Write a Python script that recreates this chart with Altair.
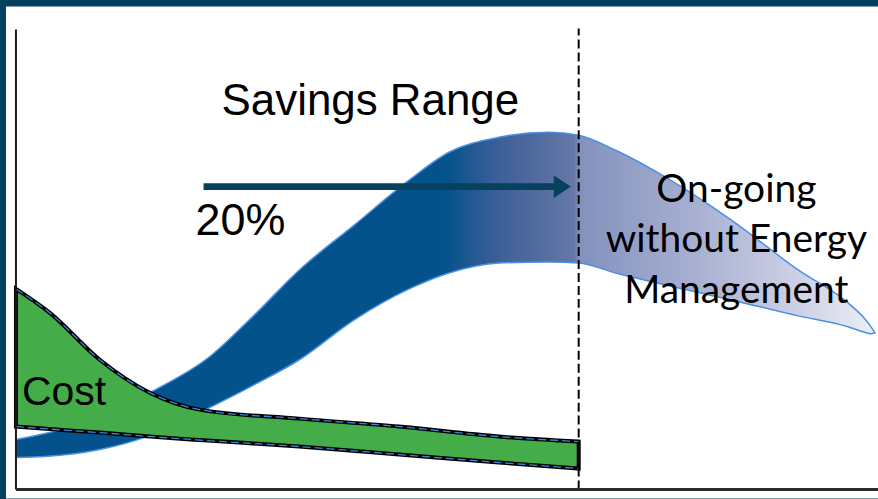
import altair as alt
import pandas as pd

# ---- data (conceptual units: x 0..100 time, y 0..100 level) ----
blue_x     = [0, 3.36, 9.74, 15.55, 22.51, 27.73, 32.95, 39.33, 45.71, 50.35, 56.15, 61.95, 65.43, 69.72, 75.52, 83.18, 90.95, 96.75, 98.49, 99.42, 99.88]
blue_upper = [10.85, 12.15, 15.62, 21.04, 28.85, 37.96, 47.72, 57.48, 67.25, 73.32, 76.57, 77.66, 77.01, 73.75, 67.90, 58.57, 47.72, 40.56, 37.53, 35.36, 34.06]
blue_lower = [6.94, 7.16, 8.68, 11.71, 17.79, 22.78, 28.20, 36.88, 43.60, 47.07, 49.24, 49.46, 49.24, 47.07, 44.47, 41.21, 37.74, 35.36, 34.27, 33.84, 34.06]

green_x     = [0, 3.94, 9.74, 15.55, 21.35, 32.95, 44.55, 56.15, 65.43]
green_upper = [43.60, 38.39, 28.20, 21.04, 17.35, 15.40, 13.67, 11.50, 10.41]
green_lower = [13.67, 13.12, 12.36, 11.50, 10.74, 9.33, 7.59, 5.86, 4.56]

divider_x = 65.43
arrow_x = [21.81, 62.65]
arrow_y = 65.84
arrow_tip_x = 63.52

labels = ["Savings Range", "20%", "Cost"]
label_x = [23.9, 20.88, 0.70]
label_y = [81.34, 55.31, 18.33]
label_size = [44, 45, 41]

ongoing_lines = ["On-going", "without Energy", "Management"]
ongoing_x = 83.76
ongoing_y = [62.58, 51.52, 40.56]

XD = [-1.16, 100.232]
YD = [-1.952, 104.99]

def X(field="x"):
    return alt.X(f"{field}:Q", scale=alt.Scale(domain=XD, nice=False, zero=False), axis=None)

def Y(field="y"):
    return alt.Y(f"{field}:Q", scale=alt.Scale(domain=YD, nice=False, zero=False), axis=None)

blue_df = pd.DataFrame({"x": blue_x, "y": blue_upper, "y2": blue_lower})
green_df = pd.DataFrame({"x": green_x, "y": green_upper, "y2": green_lower})

grad = alt.LinearGradient(
    gradient="linear", x1=0, x2=1, y1=0, y2=0,
    stops=[
        alt.GradientStop(color="#03528b", offset=0),
        alt.GradientStop(color="#03528b", offset=0.498),
        alt.GradientStop(color="#3d5f97", offset=0.562),
        alt.GradientStop(color="#6677a8", offset=0.649),
        alt.GradientStop(color="#8391bd", offset=0.657),
        alt.GradientStop(color="#a9b1d2", offset=0.794),
        alt.GradientStop(color="#cdd1e5", offset=0.911),
        alt.GradientStop(color="#eceef6", offset=1.0),
    ],
)

blue = alt.Chart(blue_df).mark_area(
    interpolate="monotone", fill=grad, stroke="#4a90e2", strokeWidth=1.5, opacity=1
).encode(x=X(), y=Y(), y2="y2:Q")

green = alt.Chart(green_df).mark_area(
    interpolate="monotone", fill="#44ad4a", stroke="#000000", strokeWidth=4, opacity=1
).encode(x=X(), y=Y(), y2="y2:Q")

green_up_line = alt.Chart(green_df).mark_line(
    interpolate="monotone", color="#3a86d8", strokeWidth=1.3, strokeDash=[8, 4]
).encode(x=X(), y=Y("y"))
green_lo_line = alt.Chart(green_df).mark_line(
    interpolate="monotone", color="#3a86d8", strokeWidth=1.3, strokeDash=[8, 4]
).encode(x=X(), y=Y("y2"))

div_df = pd.DataFrame({"x": [divider_x], "y": [0], "y2": [100.2]})
divider = alt.Chart(div_df).mark_rule(color="black", strokeWidth=2, strokeDash=[9, 4]).encode(
    x=X(), y=Y(), y2="y2:Q"
)

arrow_df = pd.DataFrame({"x": [arrow_x[0]], "x2": [arrow_x[1]], "y": [arrow_y]})
arrow_line = alt.Chart(arrow_df).mark_rule(color="#06415e", strokeWidth=7, strokeCap="butt").encode(
    x=X(), x2="x2:Q", y=Y()
)
head_df = pd.DataFrame({"x": [arrow_tip_x], "y": [arrow_y]})
arrow_head = alt.Chart(head_df).mark_point(
    shape="M-0.74,-1L0.74,0L-0.74,1Z", size=529, filled=True, color="#06415e", opacity=1, strokeWidth=0
).encode(x=X(), y=Y())

lab_df = pd.DataFrame({"t": labels, "x": label_x, "y": label_y, "s": label_size})
lab_layers = []
for i in range(len(labels)):
    d = lab_df.iloc[[i]]
    lab_layers.append(
        alt.Chart(d).mark_text(
            align="left", baseline="alphabetic", font="Liberation Sans",
            fontSize=label_size[i], color="black"
        ).encode(x=X(), y=Y(), text="t:N")
    )

on_df = pd.DataFrame({"t": ongoing_lines, "x": [ongoing_x] * 3, "y": ongoing_y})
ongoing = alt.Chart(on_df).mark_text(
    align="center", baseline="alphabetic", font="Lato", fontSize=39, color="black"
).encode(x=X(), y=Y(), text="t:N")

axis_df = pd.DataFrame({"x": [0], "x2": [100.232], "y": [0], "y2": [100]})
left_axis = alt.Chart(axis_df).mark_rule(color="#1a1a1a", strokeWidth=2).encode(
    x=X(), y=Y(), y2="y2:Q"
)
bottom_axis = alt.Chart(axis_df).mark_rule(color="#2a2a2a", strokeWidth=3).encode(
    x=X(), x2="x2:Q", y=Y()
)

chart = alt.layer(
    blue, green, green_up_line, green_lo_line, divider, arrow_line, arrow_head,
    *lab_layers, ongoing, left_axis, bottom_axis
).properties(
    width=874, height=493, background="#01415f",
    padding={"left": 6, "top": 6, "right": 0, "bottom": 0},
    autosize="none",
).configure_view(stroke=None, fill="white")

chart.save("out.html", embed_options={"renderer": "svg", "actions": False})
